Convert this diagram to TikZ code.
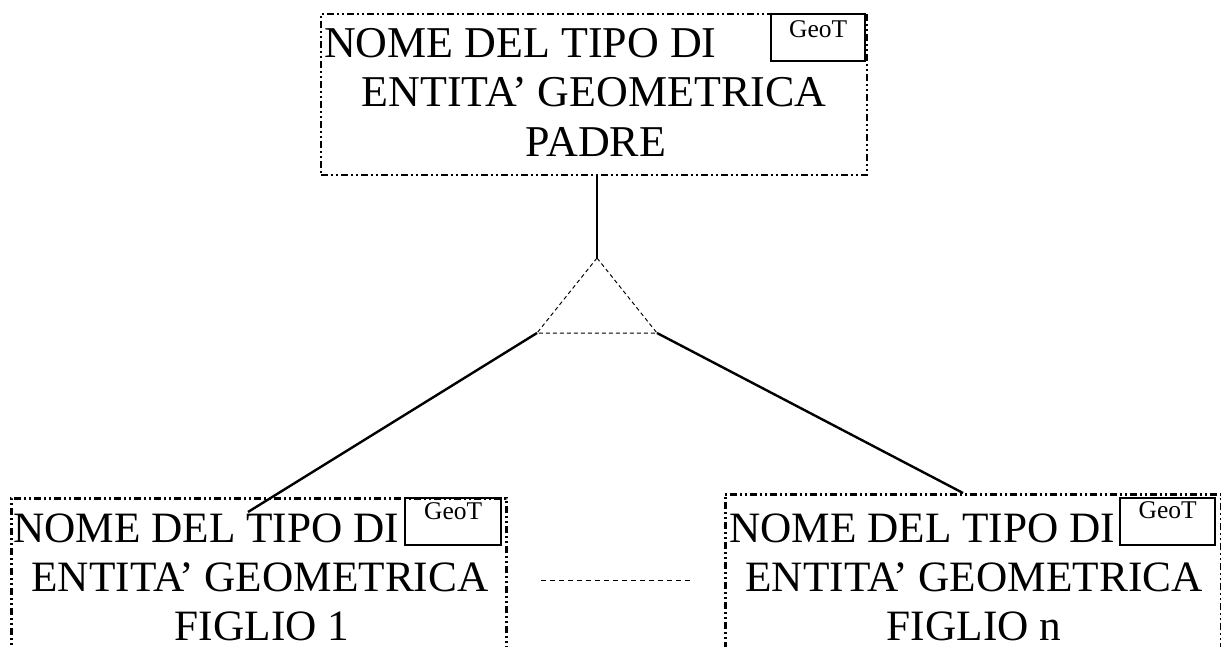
\documentclass[tikz,border=0pt]{standalone}
\usepackage{fontspec}
\setmainfont{Liberation Serif}
\begin{document}
\begin{tikzpicture}[x=1pt,y=-1pt,
  entbox/.style={draw, line width=2.5pt, dash pattern=on 7pt off 3pt on 2pt off 3pt on 2pt off 3pt, inner sep=0pt},
  geobox/.style={draw, line width=1.6pt, inner sep=0pt, anchor=north east},
  geotxt/.style={inner sep=0pt, font=\fontsize{25.5}{28}\selectfont, anchor=base},
  txt/.style={inner sep=0pt, font=\fontsize{44}{50}\selectfont},
  ctxt/.style={inner sep=0pt, font=\fontsize{43.3}{50}\selectfont},
  conn/.style={line width=2.4pt},
  dsh/.style={line width=1pt, dash pattern=on 4pt off 3pt}]
\useasboundingbox (0,0) rectangle (1221,647);
\clip (0,0) rectangle (1221,647);
% parent
\node[entbox, minimum width=546pt, minimum height=161pt] (parent) at (594,94.5) {};
\node[geobox, minimum width=94pt, minimum height=47pt] (geoP) at (866,13) {};
\node[geotxt] (geoPt) at (geoP.north |- 0,38) {GeoT};
\node[txt, anchor=base west] (p1) at (324,58) {NOME DEL TIPO DI};
\node[txt, anchor=base] (p2) at (594,107) {ENTITA’ GEOMETRICA};
\node[txt, anchor=base] (p3) at (596,157) {PADRE};
% child 1
\node[entbox, minimum width=495pt, minimum height=300pt, anchor=north west] (child1) at (10,497) {};
\node[geobox, minimum width=96pt, minimum height=47pt] (geo1) at (502,497) {};
\node[geotxt] (geo1t) at (geo1.north |- 0,519) {GeoT};
\node[ctxt, anchor=base west] (c11) at (13,542) {NOME DEL TIPO DI};
\node[ctxt, anchor=base] (c12) at (260,591) {ENTITA’ GEOMETRICA};
\node[ctxt, anchor=base] (c13) at (262,640) {FIGLIO 1};
% child n
\node[entbox, minimum width=496pt, minimum height=300pt, anchor=north west] (childn) at (724,493) {};
\node[geobox, minimum width=95pt, minimum height=47pt] (geon) at (1216,497) {};
\node[geotxt] (geont) at (geon.north |- 0,518) {GeoT};
\node[ctxt, anchor=base west] (cn1) at (729,542) {NOME DEL TIPO DI};
\node[ctxt, anchor=base] (cn2) at (974,591) {ENTITA’ GEOMETRICA};
\node[ctxt, anchor=base] (cn3) at (974,640) {FIGLIO n};
% triangle
\coordinate (tA) at (597,258);
\coordinate (tL) at (537,333);
\coordinate (tR) at (657,333);
\draw[dsh] (tA) -- (tL) -- (tR) -- cycle;
\coordinate (e1) at (248,512);
\coordinate (en) at (963,493);
\draw[conn] (parent.south -| tA) -- (tA);
\draw[conn] (tL) -- (e1);
\draw[conn] (tR) -- (en);
% dashes between children
\coordinate (d1) at (541,580);
\coordinate (d2) at (692,580);
\draw[line width=1pt, dash pattern=on 5pt off 4pt] (d1) -- (d2);
\end{tikzpicture}
\end{document}
